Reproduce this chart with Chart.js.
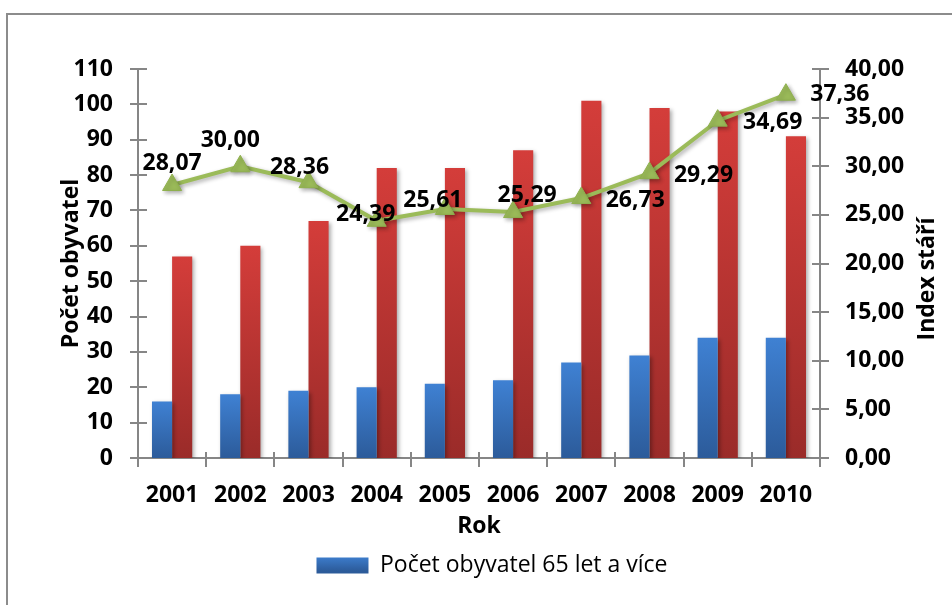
<!DOCTYPE html>
<html><head><meta charset="utf-8">
<script src="https://cdn.jsdelivr.net/npm/chart.js@4.4.1/dist/chart.umd.min.js"></script>
<style>
html,body{margin:0;padding:0;background:#fff;overflow:hidden}
#wrap{position:relative;width:952px;height:605px;overflow:hidden}
#frame{position:absolute;left:6px;top:13px;width:1000px;height:700px;border:2px solid #8c8c8c;box-sizing:border-box}
canvas{position:absolute;left:0;top:0}
</style></head><body>
<div id="wrap"><div id="frame"></div><canvas id="c" width="952" height="605"></canvas></div>
<script>
// ---- data ----
const categories = ['2001','2002','2003','2004','2005','2006','2007','2008','2009','2010'];
const seniors65 = [16, 18, 19, 20, 21, 22, 27, 29, 34, 34];
const children = [57, 60, 67, 82, 82, 87, 101, 99, 98, 91];
const ageIndex = [28.07, 30.00, 28.36, 24.39, 25.61, 25.29, 26.73, 29.29, 34.69, 37.36];
const seniorsLabel = 'Počet obyvatel 65 let a více';
const childrenLabel = 'Počet obyvatel 0-14 let';
const indexLabel = 'Index stáří';
const leftAxisMax = 110, leftAxisStep = 10;
const rightAxisMax = 40, rightAxisStep = 5;

const FONT = "'Open Sans', 'DejaVu Sans', sans-serif";
const fmt = v => v.toFixed(2).replace('.', ',');

function barGradient(top, bottom) {
  return function (ctx) {
    const chart = ctx.chart;
    const s = chart.scales && chart.scales.y;
    if (!s || ctx.raw === undefined || !isFinite(s.top)) return top;
    const y0 = s.getPixelForValue(ctx.raw), y1 = s.getPixelForValue(0);
    if (!isFinite(y0) || !isFinite(y1) || y0 === y1) return top;
    const g = chart.ctx.createLinearGradient(0, y0, 0, y1);
    g.addColorStop(0, top);
    g.addColorStop(1, bottom);
    return g;
  };
}

const shadowPlugin = {
  id: 'shadow',
  beforeDatasetDraw(chart) {
    const c = chart.ctx; c.save();
    c.shadowColor = 'rgba(0,0,0,0.32)'; c.shadowBlur = 4; c.shadowOffsetX = 2; c.shadowOffsetY = 2;
  },
  afterDatasetDraw(chart) { chart.ctx.restore(); }
};

const crossTicks = {
  id: 'crossTicks',
  afterDraw(chart) {
    const c = chart.ctx, a = chart.chartArea;
    c.save(); c.strokeStyle = '#868686'; c.lineWidth = 2;
    const ys = chart.scales.y, y1s = chart.scales.y1;
    c.beginPath();
    ys.ticks.forEach((t, i) => { const p = Math.round(ys.getPixelForTick(i)); c.moveTo(a.left - 8, p); c.lineTo(a.left + 9, p); });
    y1s.ticks.forEach((t, i) => { const p = Math.round(y1s.getPixelForTick(i)); c.moveTo(a.right - 8, p); c.lineTo(a.right + 9, p); });
    const n = categories.length, w = (a.right - a.left) / n;
    for (let i = 0; i <= n; i++) { const p = Math.round(a.left + i * w); c.moveTo(p, a.bottom - 6); c.lineTo(p, a.bottom + 9); }
    c.stroke();
    c.restore();
  }
};

const pointLabels = {
  id: 'pointLabels',
  afterDatasetsDraw(chart, args, opts) {
    const c = chart.ctx;
    const meta = chart.getDatasetMeta(opts.datasetIndex);
    c.save();
    c.font = opts.font; c.fillStyle = '#000'; c.textAlign = 'center'; c.textBaseline = 'middle';
    meta.data.forEach((pt, i) => {
      const off = opts.offsets[i] || [0, -20];
      c.fillText(fmt(chart.data.datasets[opts.datasetIndex].data[i]), pt.x + off[0], pt.y + off[1]);
    });
    c.restore();
  }
};

const rightTitle = {
  id: 'rightTitle',
  afterDraw(chart, args, opts) {
    const c = chart.ctx;
    c.save();
    c.translate(opts.x, opts.y); c.rotate(-Math.PI / 2);
    c.font = opts.font; c.fillStyle = '#000'; c.textAlign = 'center'; c.textBaseline = 'middle';
    c.fillText(opts.text, 0, 0);
    c.restore();
  }
};

const PAD_BOTTOM = 18;
const chart = new Chart(document.getElementById('c'), {
  data: {
    labels: categories,
    datasets: [
      { type: 'bar', label: seniorsLabel, data: seniors65, yAxisID: 'y', order: 1,
        backgroundColor: barGradient('#3F81D3', '#2C5B9A'), borderWidth: 0,
        barPercentage: 1.0, categoryPercentage: 0.59 },
      { type: 'bar', label: childrenLabel, data: children, yAxisID: 'y', order: 1,
        backgroundColor: barGradient('#D43D3A', '#9A2B29'), borderWidth: 0,
        barPercentage: 1.0, categoryPercentage: 0.59 },
      { type: 'line', label: indexLabel, data: ageIndex, yAxisID: 'y1', order: 0,
        borderColor: '#9BBB59', borderWidth: 4, tension: 0,
        pointStyle: 'triangle', pointRadius: 11, pointHoverRadius: 11,
        pointBackgroundColor: '#9BBB59', pointBorderColor: '#8FB04E', pointBorderWidth: 1 }
    ]
  },
  options: {
    responsive: false, animation: false,
    layout: { padding: { left: 32, right: 0, top: 69, bottom: PAD_BOTTOM } },
    scales: {
      x: {
        offset: true,
        grid: { display: false, drawTicks: true, tickLength: 8 },
        border: { display: true, color: '#868686', width: 2 },
        ticks: { color: '#000', font: { family: FONT, size: 23, weight: 'bold' }, padding: 16, maxRotation: 0 },
        title: { display: true, text: 'Rok', color: '#000', font: { family: FONT, size: 23, weight: 'bold' }, padding: { top: 0, bottom: 4 } },
        afterFit(s) { const lh = (s.chart.legend && s.chart.legend.height) ? s.chart.legend.height : 43; s.height = 605 - PAD_BOTTOM - lh - 458; }
      },
      y: {
        position: 'left', min: 0, max: leftAxisMax,
        grid: { display: false, drawTicks: true, tickLength: 8 },
        border: { display: true, color: '#868686', width: 2 },
        ticks: { stepSize: leftAxisStep, color: '#000', font: { family: FONT, size: 23, weight: 'bold' }, padding: 17 },
        title: { display: true, text: 'Počet obyvatel', color: '#000', font: { family: FONT, size: 23, weight: 'bold' }, padding: { top: 26, bottom: 0 } },
        afterFit(s) { s.width = 138 - 32; }
      },
      y1: {
        position: 'right', min: 0, max: rightAxisMax,
        grid: { display: false, drawTicks: true, tickLength: 8 },
        border: { display: true, color: '#868686', width: 2 },
        ticks: { stepSize: rightAxisStep, color: '#000', font: { family: FONT, size: 23, weight: 'bold' }, padding: 17, callback: v => fmt(v) },
        afterFit(s) { s.width = 952 - 820; }
      }
    },
    plugins: {
      legend: {
        position: 'bottom',
        labels: {
          color: '#000', font: { family: FONT, size: 23 }, boxWidth: 52, boxHeight: 16,
          filter: item => item.datasetIndex === 0,
          generateLabels(ch) {
            const items = Chart.defaults.plugins.legend.labels.generateLabels(ch);
            const g = ch.ctx.createLinearGradient(0, 555, 0, 571);
            g.addColorStop(0, '#3F81D3'); g.addColorStop(1, '#2C5B9A');
            items.forEach(it => { if (it.datasetIndex === 0) { it.fillStyle = g; it.lineWidth = 0; it.strokeStyle = 'transparent'; } });
            return items;
          }
        }
      },
      tooltip: { enabled: false },
      pointLabels: {
        datasetIndex: 2, font: "bold 23px " + FONT,
        offsets: [[0,-22],[-10,-26],[-9,-15],[-11,-6],[-12,-8],[14,-17],[54,2],[54,2],[55,2],[54,0]]
      },
      rightTitle: { text: indexLabel, x: 927, y: 279, font: "bold 23px " + FONT }
    }
  },
  plugins: [shadowPlugin, crossTicks, pointLabels, rightTitle]
});
</script>
</body></html>
